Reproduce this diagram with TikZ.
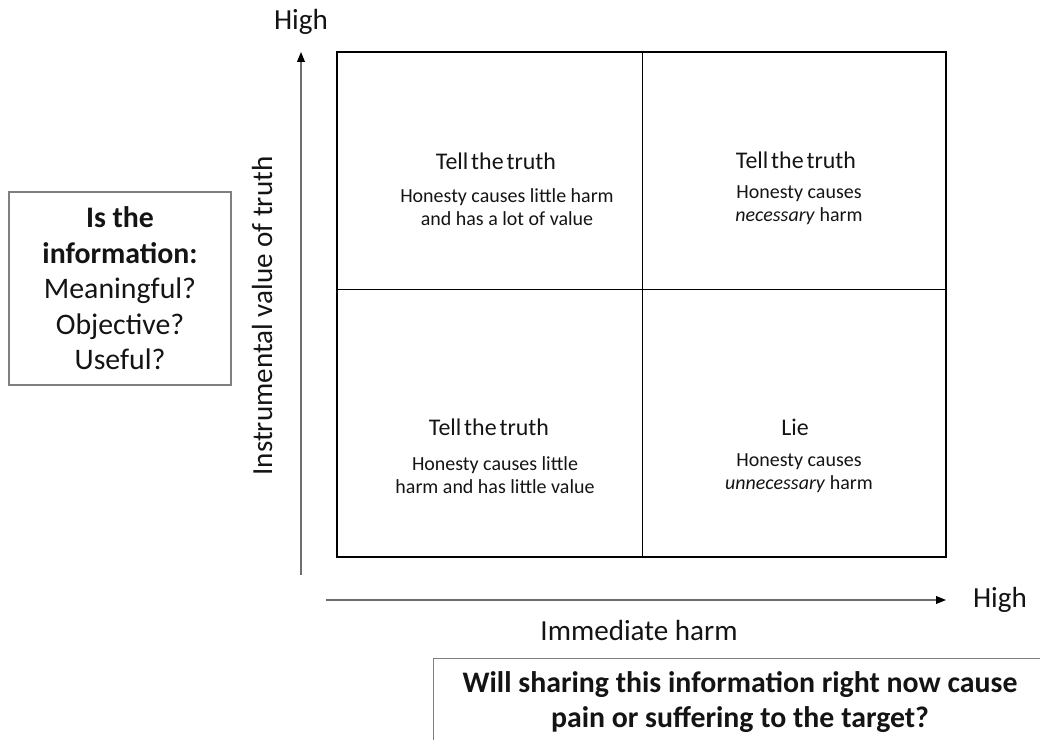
\documentclass[tikz,border=0pt]{standalone}
\usepackage{fontspec}
\setmainfont{Carlito}
\usetikzlibrary{arrows.meta}

\definecolor{ink}{HTML}{141414}
\definecolor{axisgrey}{HTML}{6E6E6E}
\definecolor{boxgrey}{HTML}{7F7F7F}
\newcommand\tightwords{\spaceskip=0.12em\relax}

\begin{document}
\begin{tikzpicture}[x=0.025cm,y=-0.025cm,
  every node/.style={text=ink},
  title/.style={font={\fontsize{17}{20}\selectfont\tightwords}},
  desc/.style={align=center,font=\fontsize{14.2}{16.4}\selectfont},
  question/.style={draw=boxgrey,line width=0.8pt,align=center},
  axis/.style={draw=axisgrey,line width=0.8pt,-{Triangle[length=7pt,width=5.5pt,color=black]}},
  axislabel/.style={font=\fontsize{20.7}{24}\selectfont}]
  \clip (0,0) rectangle (1040,740);

  % the 2x2 grid
  \draw[line width=1.1pt] (337,52) rectangle (946,557);
  \draw[line width=0.6pt] (642,52) -- (642,557)
                          (337,289) -- (946,289);

  \node[title] (tl) at (496,161) {Tell the truth};
  \node[desc]  (tld) at (507,207) {Honesty causes little harm\\and has a lot of value};
  \node[title] (tr) at (796,160) {Tell the truth};
  \node[desc]  (trd) at (799,205) {Honesty causes\\\emph{necessary} harm};
  \node[title] (bl) at (489,427) {Tell the truth};
  \node[desc]  (bld) at (495,475) {Honesty causes little\\harm and has little value};
  \node[title] (br) at (795,427) {Lie};
  \node[desc]  (brd) at (799,473) {Honesty causes\\\emph{unnecessary} harm};

  % axes
  \coordinate (ybot) at (301,575);
  \coordinate (ytop) at (301,52);
  \coordinate (xleft) at (326,600);
  \coordinate (xright) at (946,600);
  \draw[axis] (ybot) -- (ytop);
  \draw[axis] (xleft) -- (xright);

  \node[axislabel] (yhigh) at (301,22) {High};
  \node[axislabel] (xhigh) at (1000,600) {High};
  \node[axislabel,rotate=90] (ylabel) at (262,316) {Instrumental value of truth};
  \node[axislabel] (xlabel) at (639,631) {Immediate harm};

  % the two questions
  \node[question,minimum width=5.55cm,minimum height=4.825cm,
        font=\fontsize{21.2}{25.2}\selectfont] (value) at (120,288.5)
    {\textbf{Is the}\\\textbf{information:}\\Meaningful?\\Objective?\\Useful?};
  \node[question,minimum width=15.3cm,minimum height=2.2cm,
        font=\bfseries\fontsize{21.2}{24.9}\selectfont] (harm) at (740,702.5)
    {Will sharing this information right now cause\\pain or suffering to the target?};
\end{tikzpicture}
\end{document}
